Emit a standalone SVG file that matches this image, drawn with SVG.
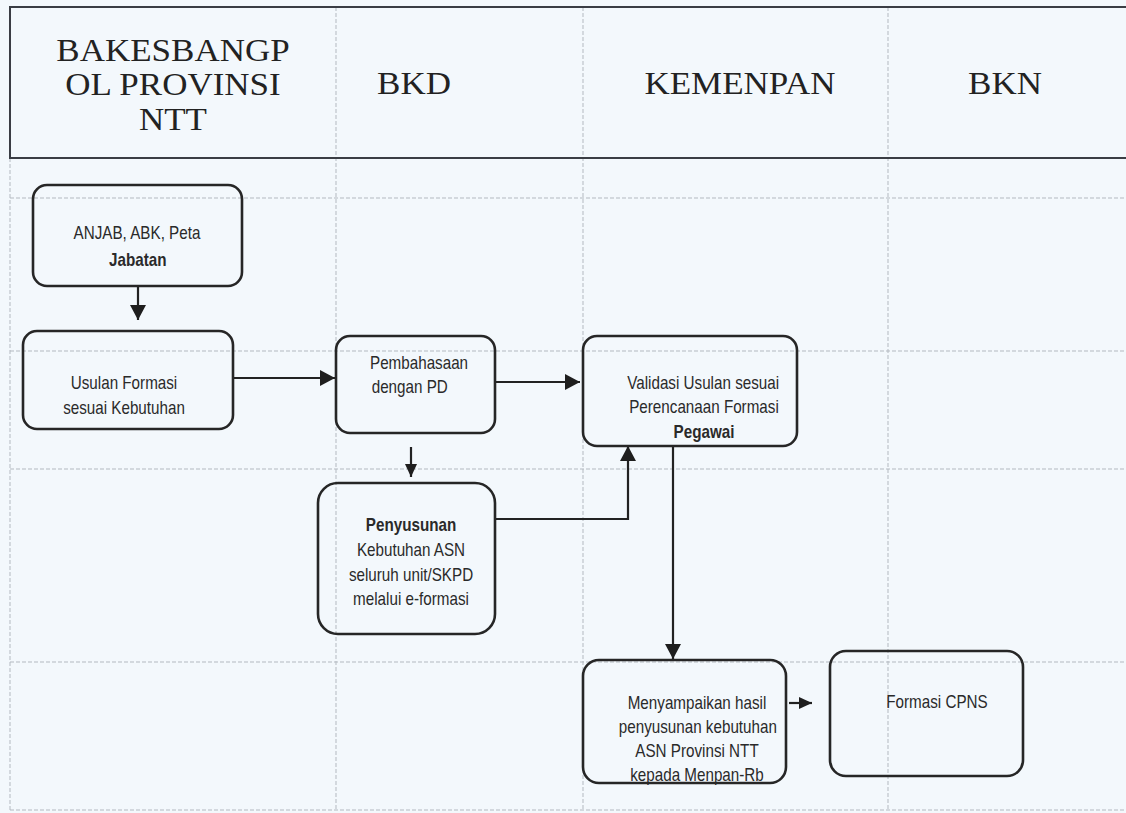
<svg xmlns="http://www.w3.org/2000/svg" width="1126" height="813" viewBox="0 0 1126 813">
<defs>
<style>
.bg{fill:#f3f8fc}
.grid{stroke:#b3b9c0;stroke-width:1;stroke-dasharray:4 2;fill:none}
.hdr{stroke:#3a3d44;stroke-width:2;fill:none}
.box{fill:none;stroke:#262626;stroke-width:2.6}
.ht{font-family:"Liberation Serif","Times New Roman",serif;font-size:35px;fill:#222;text-anchor:middle}
.t{font-family:"Liberation Sans",Arial,sans-serif;font-size:18px;fill:#2a2a2a;text-anchor:middle}
.b{font-weight:bold}
.l{text-anchor:start}
.c{stroke:#222;stroke-width:2.2;fill:none}
</style>
<marker id="ah" markerWidth="16" markerHeight="16" refX="15" refY="8" orient="auto" markerUnits="userSpaceOnUse">
<path d="M0,0 L15,8 L0,16 Z" fill="#1e1e1e"/>
</marker>
<marker id="ahs" markerWidth="14" markerHeight="12" refX="13" refY="6" orient="auto" markerUnits="userSpaceOnUse">
<path d="M0,0 L13,6 L0,12 Z" fill="#1e1e1e"/>
</marker>
</defs>
<rect class="bg" x="0" y="0" width="1126" height="813"/>
<g id="grid">
<path class="grid" d="M10,158 V810 M336,7 V810 M583,7 V810 M888,7 V810"/>
<path class="grid" d="M10,198 H1126 M10,351 H1126 M10,469 H1126 M10,662 H1126 M10,810 H1126"/>
<path class="hdr" d="M1126,7 H10 V158 H1126"/>
</g>
<g id="headers" transform="scale(1,0.9)">
<text class="ht"><tspan x="173" y="67.5">BAKESBANGP</tspan><tspan x="173" y="106">OL PROVINSI</tspan><tspan x="173" y="144.5">NTT</tspan></text>
<text class="ht" x="414" y="104.5">BKD</text>
<text class="ht" x="740" y="104.5">KEMENPAN</text>
<text class="ht" x="1005" y="104.5">BKN</text>
</g>
<g id="connectors">
<path class="c" d="M138,286 V320" marker-end="url(#ah)"/>
<path class="c" d="M233,378 H335" marker-end="url(#ah)"/>
<path class="c" d="M495,382 H580" marker-end="url(#ah)"/>
<path class="c" d="M411,447 V477" marker-end="url(#ahs)"/>
<path class="c" d="M495,519 H628 V446" marker-end="url(#ah)"/>
<path class="c" d="M673,446 V659" marker-end="url(#ah)"/>
<path class="c" d="M789,703 H812" marker-end="url(#ahs)"/>
</g>
<g id="n1">
<rect class="box" x="33" y="185" width="209" height="101" rx="14"/>
<g transform="translate(137,0) scale(0.845,1)">
<text class="t" x="0" y="239.5">ANJAB, ABK, Peta</text>
<text class="t b" x="1" y="266.5">Jabatan</text>
</g>
</g>
<g id="n2">
<rect class="box" x="23" y="331" width="210" height="98" rx="14"/>
<g transform="translate(124,0) scale(0.845,1)">
<text class="t" x="0" y="389.5">Usulan Formasi</text>
<text class="t" x="0" y="414.5">sesuai Kebutuhan</text>
</g>
</g>
<g id="n3">
<rect class="box" x="336" y="336" width="159" height="97" rx="14"/>
<g transform="translate(370,0) scale(0.845,1)">
<text class="t l" x="0" y="369.5">Pembahasaan</text>
<text class="t l" x="2" y="393.5">dengan PD</text>
</g>
</g>
<g id="n4">
<rect class="box" x="583" y="336" width="214" height="110" rx="14"/>
<g transform="translate(704,0) scale(0.845,1)">
<text class="t" x="-1" y="389.5">Validasi Usulan sesuai</text>
<text class="t" x="0" y="413.5">Perencanaan Formasi</text>
<text class="t b" x="0" y="438.5">Pegawai</text>
</g>
</g>
<g id="n5">
<rect class="box" x="318" y="483" width="177" height="151" rx="20"/>
<g transform="translate(411,0) scale(0.845,1)">
<text class="t b" x="0" y="531.5">Penyusunan</text>
<text class="t" x="0" y="556.5">Kebutuhan ASN</text>
<text class="t" x="0" y="581.5">seluruh unit/SKPD</text>
<text class="t" x="0" y="605.5">melalui e-formasi</text>
</g>
</g>
<g id="n6">
<rect class="box" x="583" y="660" width="203" height="123" rx="16"/>
<g transform="translate(697,0) scale(0.845,1)">
<text class="t" x="0" y="709">Menyampaikan hasil</text>
<text class="t" x="1" y="733">penyusunan kebutuhan</text>
<text class="t" x="0" y="757">ASN Provinsi NTT</text>
<text class="t" x="0" y="781">kepada Menpan-Rb</text>
</g>
</g>
<g id="n7">
<rect class="box" x="830" y="651" width="193" height="125" rx="16"/>
<g transform="translate(937,0) scale(0.845,1)">
<text class="t" x="0" y="708">Formasi CPNS</text>
</g>
</g>
</svg>
